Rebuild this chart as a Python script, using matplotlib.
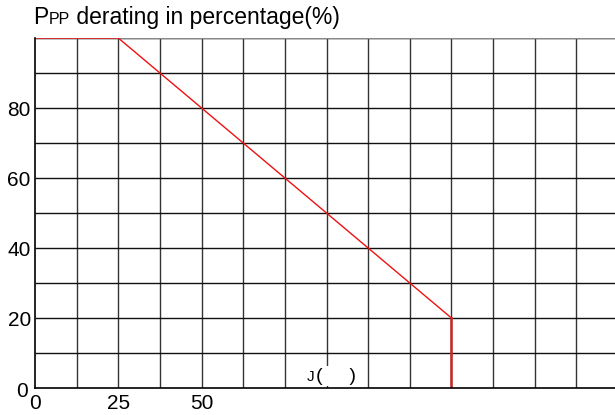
import matplotlib
matplotlib.use("Agg")
import matplotlib.pyplot as plt
import matplotlib.transforms as mtransforms
import numpy as np
from matplotlib.offsetbox import TextArea, HPacker, AnchoredOffsetbox

plt.rcParams['font.family'] = ['Liberation Sans', 'DejaVu Sans']

# derating curve (junction temperature vs Ppp %)
temp = [0, 25, 125, 125]
derate = [100, 100, 20, 0]
xtick_vals = [0, 25, 50]
ytick_vals = [0, 20, 40, 60, 80]

fig = plt.figure(figsize=(6.15, 4.15), dpi=100)
ax = fig.add_axes([35 / 615, 27 / 415, 583 / 615, 350 / 415])
ax.set_xlim(0, 175)
ax.set_ylim(0, 100)

# grid
ax.vlines(np.arange(12.5, 175, 12.5), 0, 100, color='#333333', lw=1, zorder=1)
ax.hlines(np.arange(10, 101, 10), 0, 175, color='#111111', lw=1, zorder=1)
ax.hlines(100, 0, 175, color='#888888', lw=1, zorder=1)

ax.plot(temp[:3], derate[:3], color='#ee1111', lw=1, zorder=3)
ax.plot(temp[2:], derate[2:], color='#c82828', lw=1.8, zorder=3)

for s in ['top', 'right']:
    ax.spines[s].set_visible(False)
for s in ['left', 'bottom']:
    ax.spines[s].set_color('black')
    ax.spines[s].set_linewidth(1.2)
    ax.spines[s].set_zorder(5)

ax.set_xticks(xtick_vals)
ax.set_yticks(ytick_vals)
ax.tick_params(length=0, labelsize=15, pad=3)
ax.tick_params(axis='x', pad=4)

# the y "0" sits a bit left of the axis
lab0 = ax.get_yticklabels()[0]
off = mtransforms.ScaledTranslation(-3 / 100, -1 / 100, fig.dpi_scale_trans)
lab0.set_transform(lab0.get_transform() + off)

# axis unit label with small J
jparts = [TextArea('J', textprops=dict(fontsize=11)),
          TextArea('(     )', textprops=dict(fontsize=14))]
jbox = HPacker(children=jparts, align='baseline', pad=0, sep=1)
janch = AnchoredOffsetbox(loc='lower center', child=jbox, pad=0.1, frameon=True,
                          bbox_to_anchor=(89, 0.6), bbox_transform=ax.transData,
                          borderpad=0)
janch.patch.set_facecolor('white')
janch.patch.set_edgecolor('none')
janch.set_zorder(4)
ax.add_artist(janch)

# title with small "PP"
parts = [TextArea('P', textprops=dict(fontsize=16.5)),
         TextArea('PP', textprops=dict(fontsize=11.5)),
         TextArea(' derating in percentage(%)', textprops=dict(fontsize=16.5))]
box = HPacker(children=parts, align='baseline', pad=0, sep=0)
anch = AnchoredOffsetbox(loc='lower left', child=box, pad=0, frameon=False,
                         bbox_to_anchor=(33 / 615, 1 - 29 / 415),
                         bbox_transform=fig.transFigure, borderpad=0)
fig.add_artist(anch)

fig.savefig('out.png', dpi=100)
